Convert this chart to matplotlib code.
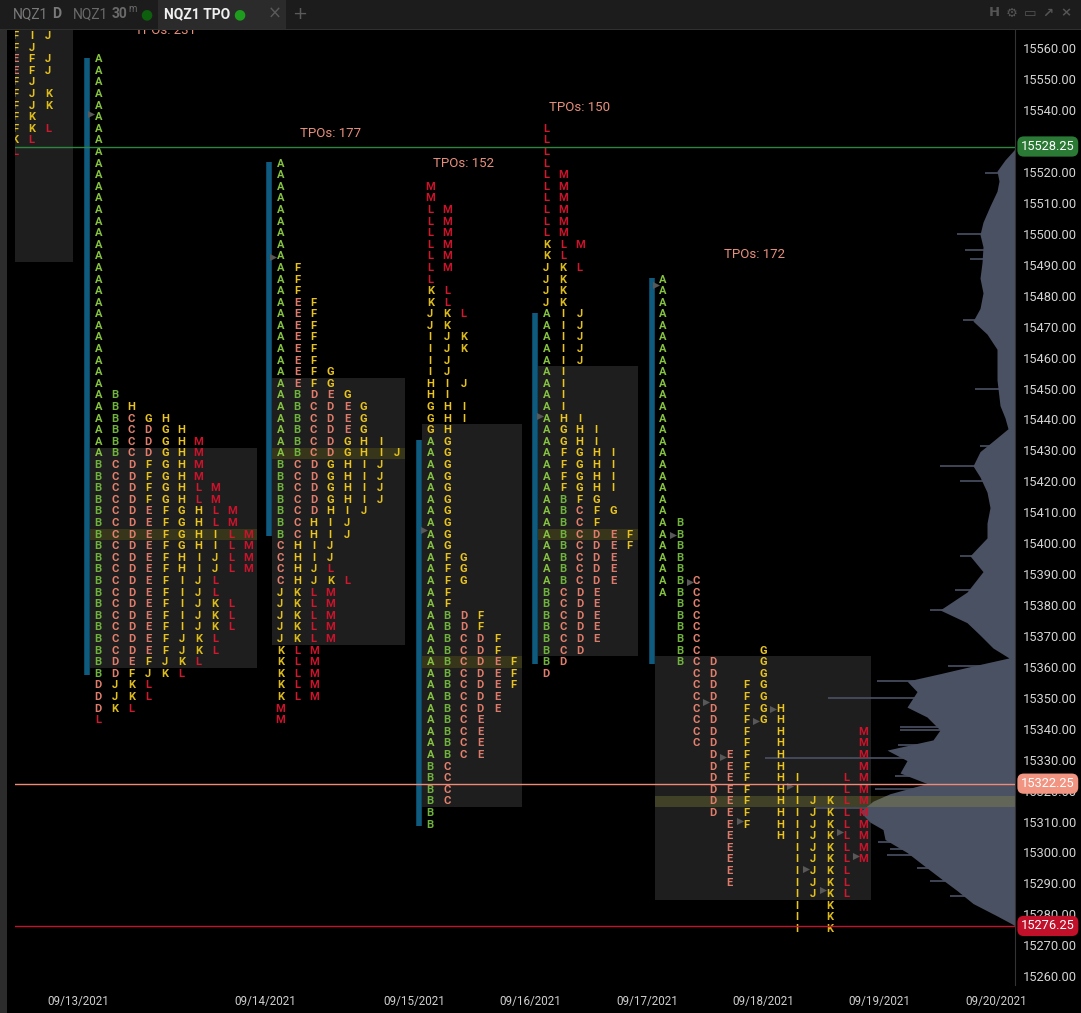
import matplotlib.pyplot as plt
from matplotlib.patches import Rectangle
from matplotlib.transforms import blended_transform_factory

plt.rcParams["font.family"] = ["Roboto", "DejaVu Sans"]

W, H = 1081, 1013          # output size in pixels
ROW = 3.75                 # price height of one TPO row


def runs(*pairs):
    out = []
    for s, n in pairs:
        out += [s] * n
    return out


# ---- TPO rows, top to bottom, one string per price row ----
ROWS_0912 = ["FIJ", "FJ", "EFJ", "EFJ", "FJ", "FJK", "FJK", "FK", "FKL", "KL", "L"]
ROWS_0913 = runs(("A", 29), ("AB", 1), ("ABH", 1), ("ABCGH", 1), ("ABCDGH", 1),
                 ("ABCDGHM", 2), ("BCDFGHM", 2), ("BCDFGHLM", 2), ("BCDEFGHLM", 2),
                 ("BCDEFGHILM", 2), ("BCDEFHIJLM", 2), ("BCDEFIJL", 2), ("BCDEFIJKL", 3),
                 ("BCDEFJKL", 2), ("BDEFJKL", 1), ("BDFJKL", 1), ("DJKL", 2), ("DKL", 1), ("L", 1))
ROWS_0914 = runs(("A", 9), ("AF", 3), ("AEF", 6), ("AEFG", 2), ("ABDEG", 1), ("ABCDEG", 3),
                 ("ABCDGHI", 1), ("ABCDGHIJ", 1), ("BCDGHIJ", 4), ("BCDHIJ", 1), ("BCHIJ", 2),
                 ("CHIJ", 2), ("CHJL", 1), ("CHJKL", 1), ("JKLM", 5), ("KLM", 5), ("M", 2))
ROWS_0915 = runs(("M", 2), ("LM", 6), ("L", 1), ("KL", 2), ("JKL", 1), ("JK", 1), ("IJK", 2),
                 ("IJ", 2), ("HIJ", 1), ("HI", 1), ("GHI", 2), ("GH", 1), ("AG", 10), ("AFG", 3),
                 ("AF", 2), ("ABDF", 2), ("ABCDF", 2), ("ABCDEF", 3), ("ABCDE", 2), ("ABCE", 4),
                 ("BC", 4), ("B", 2))
ROWS_0916 = runs(("L", 4), ("LM", 6), ("KLM", 1), ("KL", 1), ("JKL", 1), ("JK", 3), ("AIJ", 5),
                 ("AI", 4), ("AHI", 1), ("AGHI", 2), ("AFGHI", 4), ("ABFG", 1), ("ABCFG", 1),
                 ("ABCF", 1), ("ABCDEF", 2), ("ABCDE", 3), ("BCDE", 5), ("BCD", 1), ("BD", 1), ("D", 1))
ROWS_0917 = runs(("A", 21), ("AB", 5), ("ABC", 2), ("BC", 4), ("BCG", 1), ("BCDG", 1), ("CDG", 1),
                 ("CDFG", 2), ("CDFGH", 2), ("CDFHM", 2), ("DEFHM", 2), ("DEFHILM", 2),
                 ("DEFHIJKLM", 2), ("EFHIJKLM", 1), ("EHIJKLM", 1), ("EIJKLM", 2), ("EIJKL", 2),
                 ("IJKL", 1), ("IK", 3))

PROFILE_ROWS = [ROWS_0912, ROWS_0913, ROWS_0914, ROWS_0915, ROWS_0916, ROWS_0917]
PROFILE_TOP = [15564.0, 15556.5, 15522.75, 15515.25, 15534.0, 15485.25]   # price of first row
VALUE_AREA = [(-3, 19), (34, 52), (19, 41), (21, 53), (21, 45), (33, 53)]  # row range
POC_ROW = [None, 41, 25, 41, 35, 45]
SHOW_COUNT = [False, True, True, True, True, True]
SPLIT = [False, False, False, False, False, True]      # last day keeps one column per period

# open / period markers (profile, row, column)
MARKERS = [(1, 4.7, -0.45), (2, 8.1, -0.45), (3, 29.6, -0.4), (4, 24.8, -0.35),
           (5, 0.5, -0.4), (5, 22.0, 0.6), (5, 26.1, 1.6), (5, 36.4, 2.6), (5, 37.0, 6.6),
           (5, 38.1, 5.6), (5, 41.2, 3.6), (5, 43.7, 7.6), (5, 46.7, 4.6), (5, 47.6, 10.6),
           (5, 49.7, 11.6), (5, 50.8, 8.6), (5, 52.6, 9.6)]

# composite volume profile (price, width from right edge)
VP_PRICE = [15528.0, 15527.1, 15523.9, 15520.3, 15517.1, 15513.8, 15509.0, 15503.8, 15499.8,
            15495.8, 15490.7, 15485.7, 15480.9, 15475.9, 15471.8, 15467.6, 15462.7, 15457.7,
            15452.8, 15444.5, 15440.5, 15437.0, 15433.0, 15429.6, 15425.0, 15421.4, 15416.5,
            15411.5, 15406.5, 15401.7, 15395.9, 15390.8, 15384.2, 15378.4, 15374.3, 15370.3,
            15366.1, 15362.9, 15360.3, 15357.8, 15355.4, 15352.0, 15347.0, 15343.8, 15339.6,
            15336.4, 15333.1, 15329.7, 15325.7, 15322.3, 15319.0, 15316.6, 15313.2, 15309.8,
            15307.4, 15304.2, 15300.0, 15296.0, 15291.8, 15287.7, 15283.5, 15279.5, 15276.9,
            15276.25]
VP_WIDTH = [0, 1, 10, 18, 16, 18, 25, 32, 35, 32, 33, 35, 32, 35, 42, 28, 18, 18, 18, 15, 10, 7,
            22, 35, 42, 35, 28, 25, 28, 28, 45, 32, 48, 75, 48, 35, 22, 6, 42, 75, 108, 98, 108,
            88, 75, 82, 128, 108, 115, 88, 125, 142, 155, 145, 132, 130, 108, 92, 75, 58, 42, 18,
            3, 0]
VP_SPIKE_PRICE = [15519.7, 15500.0, 15494.8, 15492.0, 15472.0, 15449.8, 15431.4, 15425.0,
                  15420.1, 15395.9, 15384.9, 15378.5, 15360.3, 15355.4, 15349.9, 15340.6,
                  15339.6, 15334.8, 15330.4, 15324.8, 15320.4, 15314.4, 15309.9, 15303.4,
                  15301.0, 15299.2, 15295.0, 15290.9, 15285.9]
VP_SPIKE_WIDTH = [30, 58, 50, 45, 52, 40, 35, 75, 55, 55, 60, 85, 67, 138, 187, 115, 115, 117,
                  250, 120, 140, 200, 143, 137, 125, 128, 98, 85, 65]

LEVELS = [15528.25, 15322.25, 15276.25]
LEVEL_COLORS = ["#2e8540", "#ef8a78", "#c0142c"]

DATES = ["09/13/2021", "09/14/2021", "09/15/2021", "09/16/2021",
         "09/17/2021", "09/18/2021", "09/19/2021", "09/20/2021"]
PRICE_TICKS = list(range(15260, 15561, 10))

# ---- layout (pixel units on the x axis) ----
XL, XR = 14.5, 1015
AX_TOP, AX_BOT = 29.5, 985
PROFILE_X0 = [15, 98.3, 280.3, 430.3, 546.3, 663]
COL_W = 16.67
LEFT_COLS = 4
COUNT_POS = [None, (4.0, 15565.9), (3.0, 15532.6), (2.0, 15522.9), (2.0, 15540.7), (5.5, 15493.2)]
DATE_X = [78, 265, 414, 530, 647, 763, 879, 996]

LETTER_COLORS = {
    "A": "#86c440", "B": "#6fb23c",
    "C": "#e6826e", "D": "#e27d6b", "E": "#dc7a6c",
    "F": "#e8c21e", "G": "#eac520", "H": "#ecc61f", "I": "#ecc61f", "J": "#e6c21c", "K": "#dcbb19",
    "L": "#d3182e", "M": "#cc132b",
}
BOX = "#1e1e1e"
POC = "#37361b"
IB = "#0f5b80"

fig = plt.figure(figsize=(W / 100, H / 100), dpi=100, facecolor="#000000")
ax = fig.add_axes([XL / W, (H - AX_BOT) / H, (XR - XL) / W, (AX_BOT - AX_TOP) / H])
ax.set_facecolor("#000000")
ax.set_xlim(XL, XR)
ax.set_ylim(15560 - (AX_BOT - 48.3) / 3.093, 15560 + (48.3 - AX_TOP) / 3.093)

for i, rows in enumerate(PROFILE_ROWS):
    top, x0 = PROFILE_TOP[i], PROFILE_X0[i]

    def price(r):
        return top - r * ROW

    if SPLIT[i]:
        ncol = max(ord(ch) - 64 for s in rows for ch in s)
    elif i == 0:
        ncol = LEFT_COLS
    else:
        ncol = max(len(s) for s in rows)
    va0, va1 = VALUE_AREA[i]
    ax.add_patch(Rectangle((x0 - 0.5 * COL_W, price(va1) - ROW / 2), ncol * COL_W,
                           (va1 - va0 + 1) * ROW, fc=BOX, ec="none", zorder=1))
    if POC_ROW[i] is not None:
        yb = price(POC_ROW[i]) - ROW / 2
        if SPLIT[i]:
            ax.add_patch(Rectangle((x0 - 0.5 * COL_W, yb), XR - x0 + 0.5 * COL_W, ROW,
                                   fc=(0.62, 0.62, 0.25, 0.28), ec="none", zorder=3))
        else:
            ax.add_patch(Rectangle((x0 - 0.5 * COL_W, yb), ncol * COL_W, ROW,
                                   fc=POC, ec="none", zorder=1.5))

    for r, s in enumerate(rows):
        for c, ch in enumerate(s):
            col = ord(ch) - 65 if SPLIT[i] else c
            ax.text(x0 + col * COL_W, price(r), ch, color=LETTER_COLORS[ch], fontsize=8,
                    fontweight="bold", ha="center", va="center", zorder=5, clip_on=True)

    if i > 0:
        a_rows = [r for r, s in enumerate(rows) if "A" in s]
        b_rows = [r for r, s in enumerate(rows) if "B" in s]
        ax.plot([x0 - 0.68 * COL_W] * 2, [price(a_rows[0]) + 0.5, price(b_rows[-1]) - 0.5],
                color=IB, lw=4, solid_capstyle="butt", zorder=3)
    if SHOW_COUNT[i]:
        n = sum(len(s) for s in rows)
        cx, cy = COUNT_POS[i]
        ax.text(x0 + cx * COL_W, cy, f"TPOs: {n}", color="#e8907c", fontsize=9.5,
                ha="center", va="center", zorder=5, clip_on=True)

mx = [PROFILE_X0[p] + c * COL_W for p, r, c in MARKERS]
my = [PROFILE_TOP[p] - r * ROW for p, r, c in MARKERS]
ax.scatter(mx, my, marker=">", s=26, color="#585858", linewidths=0, zorder=4)

ax.fill_betweenx(VP_PRICE, [XR - w for w in VP_WIDTH], XR, color="#4a5163", lw=0, zorder=2)
ax.hlines(VP_SPIKE_PRICE, [XR - w for w in VP_SPIKE_WIDTH], XR, color="#4a5163", lw=1.2, zorder=2)

for lv, lc in zip(LEVELS, LEVEL_COLORS):
    ax.axhline(lv, color=lc, lw=1, zorder=6)

for s in ["top", "left", "bottom"]:
    ax.spines[s].set_visible(False)
ax.spines["right"].set_color("#333333")
ax.yaxis.tick_right()
ax.set_yticks(PRICE_TICKS, [f"{v:.2f}" for v in PRICE_TICKS])
ax.tick_params(axis="y", length=0, pad=6, labelsize=9.3, labelcolor="#d4d4d4")
ax.set_xticks(DATE_X, DATES)
ax.tick_params(axis="x", length=0, pad=7, labelsize=8.4, labelcolor="#cfcfcf")

tr = blended_transform_factory(ax.transAxes, ax.transData)
for lv, lc in zip(LEVELS, ["#2a7a36", "#f29482", "#c0102a"]):
    ax.text(1 + 6 / (XR - XL), lv, f"{lv:.2f}", transform=tr, fontsize=9.3, color="#ffffff",
            ha="left", va="center", zorder=10, clip_on=False,
            bbox=dict(boxstyle="round,pad=0.28,rounding_size=0.5", fc=lc, ec="none"))


# ---- window chrome ----
def fig_rect(x0, y0, x1, y1, color):
    fig.add_artist(Rectangle((x0 / W, 1 - y1 / H), (x1 - x0) / W, (y1 - y0) / H,
                             transform=fig.transFigure, fc=color, ec="none"))


def fig_text(x, y, s, **kw):
    fig.text(x / W, 1 - y / H, s, va="center", **kw)


fig_rect(0, 0, W, 29, "#1c1c1c")
fig_rect(158, 0, 286, 29, "#2b2b2b")
fig_rect(0, 29, W, 30, "#303030")
fig_rect(0, 30, 7, H, "#2c2c2c")
fig_text(13, 14, "NQZ1", color="#7a7a7a", fontsize=10)
fig_text(52, 14, "D", color="#7a7a7a", fontsize=10, fontweight="bold")
fig_text(73, 14, "NQZ1", color="#6a6a6a", fontsize=10)
fig_text(112, 14, "30", color="#6a6a6a", fontsize=10, fontweight="bold")
fig_text(128, 9, "m", color="#6a6a6a", fontsize=7)
fig_text(140, 14, "●", color="#0d5e0d", fontsize=10, family="DejaVu Sans")
fig_text(164, 14, "NQZ1 TPO", color="#f0f0f0", fontsize=10, fontweight="bold")
fig_text(233, 14, "●", color="#1d9c1d", fontsize=10, family="DejaVu Sans")
fig_text(268, 14, "×", color="#5a5a5a", fontsize=12, family="DejaVu Sans")
fig_text(292, 14, "+", color="#5a5a5a", fontsize=13, family="DejaVu Sans")
for x, s in zip([989, 1006, 1024, 1042, 1060], ["H", "⚙", "▭", "↗", "×"]):
    fig_text(x, 13, s, color="#555555", fontsize=9.5, family="DejaVu Sans", fontweight="bold")

fig.savefig("out.png", dpi=100, facecolor=fig.get_facecolor())
